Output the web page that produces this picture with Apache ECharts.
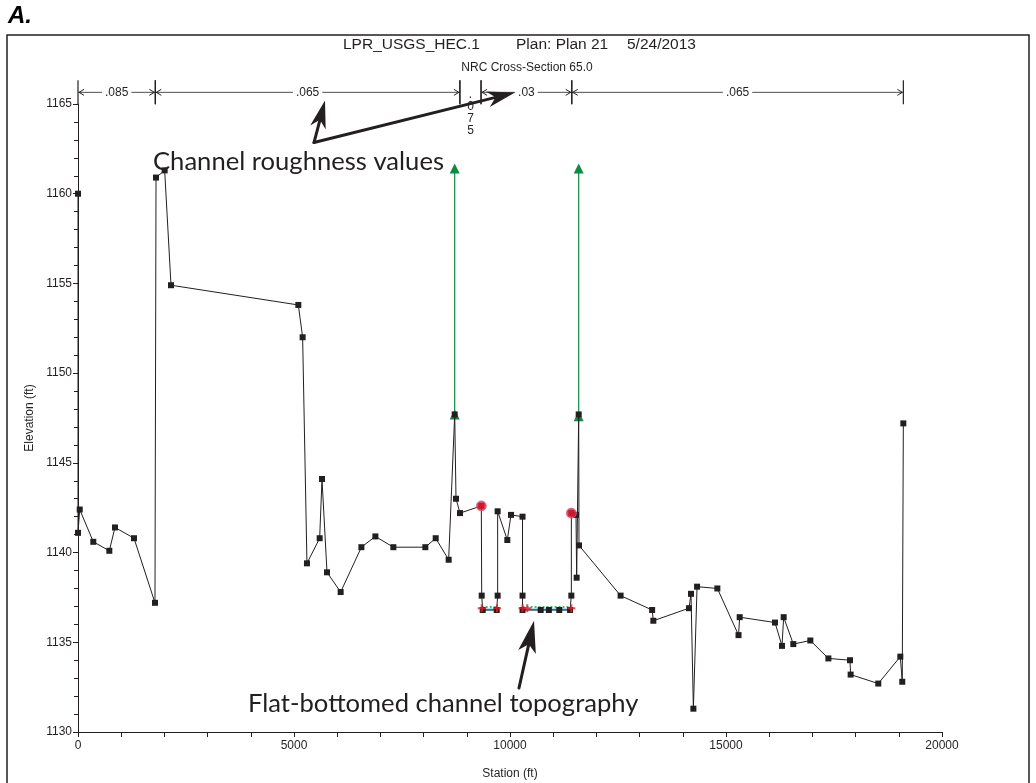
<!DOCTYPE html>
<html>
<head>
<meta charset="utf-8">
<script src="https://cdn.jsdelivr.net/npm/echarts@6/dist/echarts.min.js"></script>
<style>
  html, body { margin: 0; padding: 0; background: #fff; }
  #main { width: 1036px; height: 783px; }
</style>
</head>
<body>
<div id="main"></div>
<script>
// ground profile (station ft, elevation ft)
var groundStation = [0, 0, 40, 354, 725, 856, 1296, 1782, 1806, 2006, 2153, 5100, 5200, 5300, 5594, 5648, 5764,
  6080, 6560, 6884, 7300, 8040, 8280, 8580, 8720, 8750, 8843, 9336, 9345, 9368, 9692, 9714, 9714, 9938,
  10023, 10290, 10290, 10290, 10710, 10900, 11140, 11390, 11420, 11420, 11528, 11543, 11590, 11597,
  12560, 13290, 13318, 14144, 14190, 14245, 14330, 14800, 15290, 15317, 16134, 16296, 16335, 16558,
  16952, 17370, 17870, 17885, 18525, 19035, 19080, 19105];
var groundElev = [1160.0, 1141.1, 1142.4, 1140.6, 1140.1, 1141.4, 1140.8, 1137.2, 1160.9, 1161.3, 1154.9, 1153.8, 1152.0, 1139.4, 1140.8, 1144.1, 1138.9,
  1137.8, 1140.3, 1140.9, 1140.3, 1140.3, 1140.8, 1139.6, 1147.7, 1143.0, 1142.2, 1142.6, 1137.6, 1136.8, 1136.8, 1137.6, 1142.3, 1140.7,
  1142.1, 1142.0, 1137.6, 1136.8, 1136.8, 1136.8, 1136.8, 1136.8, 1137.6, 1142.2, 1142.1, 1138.6, 1147.7, 1140.4,
  1137.6, 1136.8, 1136.2, 1136.9, 1137.7, 1131.3, 1138.1, 1138.0, 1135.4, 1136.4, 1136.1, 1134.8, 1136.4, 1134.9,
  1135.1, 1134.1, 1134.0, 1133.2, 1132.7, 1134.2, 1132.8, 1147.2];

// ineffective flow areas (green)
var ineffStation = [8720, 11590];
var ineffLow = [1147.7, 1147.6];
var ineffHigh = [1161.4, 1161.4];

// levees (red circles)
var leveeStation = [9336, 11420];
var leveeElev = [1142.6, 1142.2];

// flat channel bottom overlays
var bottomFrom = [9345, 10290];
var bottomTo = [9700, 11420];
var wsElev = 1136.83;
var dotElev = 1136.97;
var plusStation = [9345, 9700, 10290, 10400, 11420];
var plusElev = 1136.9;

// Manning's n breaks
var roughBreaks = [0, 1790, 8840, 9330, 11430, 19105];
var roughN = ['.085', '.065', '.075', '.03', '.065'];

// annotation arrows: tail station, tail elev, tip station, tip elev
var annoTail = [[5463, 1162.85], [5463, 1162.85], [10208, 1132.45]];
var annoTip = [[5718, 1165.2], [10116, 1165.64], [10556, 1136.2]];

var xTicks = [0, 20000, 5000];
var yTicks = [1130, 1165, 5];

var ink = '#231f20';
var BRACKET_ELEV = 1165.65;

function zip(xs, ys) { return xs.map(function (x, i) { return [x, ys[i]]; }); }

var groundData = zip(groundStation, groundElev);
var ineffData = [];
ineffStation.forEach(function (s, i) {
  ineffData.push([s, ineffLow[i]], [s, ineffHigh[i]], '-');
});
var wsData = [], dotData = [];
bottomFrom.forEach(function (s, i) {
  wsData.push([s, wsElev], [bottomTo[i], wsElev], '-');
  dotData.push([s, dotElev], [bottomTo[i], dotElev], '-');
});
var plusData = plusStation.map(function (s) { return [s, plusElev]; });
var bracketData = roughN.map(function (n, i) { return [roughBreaks[i], roughBreaks[i + 1]]; });
var arrowData = annoTail.map(function (t, i) { return [t[0], t[1], annoTip[i][0], annoTip[i][1]]; });

function renderBracket(params, api) {
  var a = api.coord([api.value(0), BRACKET_ELEV]);
  var b = api.coord([api.value(1), BRACKET_ELEV]);
  var y = a[1];
  var label = roughN[params.dataIndex];
  var st = { stroke: ink, lineWidth: 1.2 };
  var kids = [
    { type: 'line', shape: { x1: a[0], y1: y - 12, x2: a[0], y2: y + 12 }, style: st },
    { type: 'line', shape: { x1: b[0], y1: y - 12, x2: b[0], y2: y + 12 }, style: st }
  ];
  if (b[0] - a[0] > 40) {
    kids.push(
      { type: 'line', shape: { x1: a[0], y1: y, x2: b[0], y2: y }, style: { stroke: ink, lineWidth: 0.8 } },
      { type: 'polyline', shape: { points: [[a[0] + 6, y - 3], [a[0] + 1, y], [a[0] + 6, y + 3]] }, style: { stroke: ink, lineWidth: 1, fill: null } },
      { type: 'polyline', shape: { points: [[b[0] - 6, y - 3], [b[0] - 1, y], [b[0] - 6, y + 3]] }, style: { stroke: ink, lineWidth: 1, fill: null } },
      { type: 'text', x: (a[0] + b[0]) / 2, y: y,
        style: { text: label, fill: ink, font: '12px "Liberation Sans", Arial, sans-serif',
          align: 'center', verticalAlign: 'middle', backgroundColor: '#fff', padding: [0, 3] } }
    );
  } else {
    kids.push({ type: 'text', x: (a[0] + b[0]) / 2, y: y - 4,
      style: { text: label.split('').join('\n'), fill: ink, font: '12px "Liberation Sans", Arial, sans-serif',
        align: 'center', verticalAlign: 'top', lineHeight: 12 } });
  }
  return { type: 'group', children: kids };
}

function renderArrow(params, api) {
  var t = api.coord([api.value(0), api.value(1)]);
  var p = api.coord([api.value(2), api.value(3)]);
  var dx = p[0] - t[0], dy = p[1] - t[1];
  var len = Math.sqrt(dx * dx + dy * dy);
  var ux = dx / len, uy = dy / len, nx = -uy, ny = ux;
  var L = params.dataIndex === 2 ? 32 : 28, w = params.dataIndex === 2 ? 9 : 8, notch = 8;
  var base = [p[0] - ux * L, p[1] - uy * L];
  var inner = [p[0] - ux * (L - notch), p[1] - uy * (L - notch)];
  return { type: 'group', children: [
    { type: 'line', shape: { x1: t[0], y1: t[1], x2: inner[0], y2: inner[1] }, style: { stroke: ink, lineWidth: 3, lineCap: 'round' } },
    { type: 'polygon', shape: { points: [p, [base[0] + nx * w, base[1] + ny * w], inner, [base[0] - nx * w, base[1] - ny * w]] }, style: { fill: ink } }
  ] };
}

function plain(v) { return String(v); }

var chart = echarts.init(document.getElementById('main'));
var option = {
  animation: false,
  backgroundColor: '#fff',
  textStyle: { fontFamily: '"Liberation Sans", Arial, sans-serif', color: ink },
  grid: { left: 78, width: 864, top: 104, height: 628, containLabel: false, outerBoundsMode: 'none' },
  xAxis: {
    type: 'value', min: xTicks[0], max: xTicks[1], interval: xTicks[2],
    name: 'Station (ft)', nameLocation: 'middle', nameGap: 36,
    nameTextStyle: { fontSize: 12, color: ink },
    axisLine: { onZero: false, lineStyle: { color: ink, width: 1 } },
    axisTick: { length: 5, lineStyle: { color: ink } },
    minorTick: { show: true, splitNumber: 5, length: 5, lineStyle: { color: ink } },
    axisLabel: { fontSize: 12, color: ink, margin: 8, formatter: plain },
    splitLine: { show: false }
  },
  yAxis: {
    type: 'value', min: yTicks[0], max: yTicks[1], interval: yTicks[2],
    name: 'Elevation (ft)', nameLocation: 'middle', nameGap: 39,
    nameTextStyle: { fontSize: 12, color: ink },
    axisLine: { show: true, lineStyle: { color: ink, width: 1 } },
    axisTick: { show: true, length: 5, lineStyle: { color: ink } },
    minorTick: { show: true, splitNumber: 5, length: 4, lineStyle: { color: ink } },
    axisLabel: { fontSize: 12, color: ink, margin: 6, formatter: plain },
    splitLine: { show: false }
  },
  series: [
    { type: 'line', name: 'ws', data: wsData, symbol: 'none', z: 2,
      lineStyle: { color: '#4fc4e8', width: 2 } },
    { type: 'line', name: 'dots', data: dotData, symbol: 'none', z: 2,
      lineStyle: { color: '#1c9a4e', width: 1.5, type: [2, 2] } },
    { type: 'line', name: 'ineff', data: ineffData, symbol: 'triangle', symbolSize: 10, z: 3,
      itemStyle: { color: '#0e8a43' }, lineStyle: { color: '#0e8a43', width: 1.2 } },
    { type: 'line', name: 'ground', data: groundData, symbol: 'rect', symbolSize: 6, z: 4,
      itemStyle: { color: ink }, lineStyle: { color: ink, width: 1 } },
    { type: 'scatter', name: 'levee', data: zip(leveeStation, leveeElev), symbol: 'circle', symbolSize: 10, z: 5,
      itemStyle: { color: '#ec1c2e', borderColor: '#d06aa0', borderWidth: 1 } },
    { type: 'scatter', name: 'plus', data: plusData, z: 6,
      symbol: 'path://M3,0h2v3h3v2h-3v3h-2v-3h-3v-2h3z', symbolSize: 8, itemStyle: { color: '#ee1c25' } },
    { type: 'custom', name: 'roughness', data: bracketData, renderItem: renderBracket, clip: false, z: 7,
      encode: { x: [0, 1] }, silent: true },
    { type: 'custom', name: 'arrows', data: arrowData, renderItem: renderArrow, clip: false, z: 8,
      encode: { x: [0, 2], y: [1, 3] }, silent: true }
  ],
  graphic: [
    { type: 'rect', shape: { x: 7, y: 35, width: 1022, height: 770 }, style: { fill: null, stroke: ink, lineWidth: 1.5 }, silent: true },
    { type: 'text', x: 8, y: 16, style: { text: 'A.', font: 'italic bold 24px "Liberation Sans", Arial, sans-serif', fill: '#000', verticalAlign: 'middle' } },
    { type: 'text', x: 343, y: 45, style: { text: 'LPR_USGS_HEC.1', font: '15.5px "Liberation Sans", Arial, sans-serif', fill: ink, verticalAlign: 'middle' } },
    { type: 'text', x: 516, y: 45, style: { text: 'Plan: Plan 21', font: '15.5px "Liberation Sans", Arial, sans-serif', fill: ink, verticalAlign: 'middle' } },
    { type: 'text', x: 627, y: 45, style: { text: '5/24/2013', font: '15.5px "Liberation Sans", Arial, sans-serif', fill: ink, verticalAlign: 'middle' } },
    { type: 'text', x: 527, y: 68, style: { text: 'NRC Cross-Section 65.0', font: '12px "Liberation Sans", Arial, sans-serif', fill: ink, align: 'center', verticalAlign: 'middle' } },
    { type: 'text', x: 153, y: 162, style: { text: 'Channel roughness values', font: '25.6px Lato, "Open Sans", sans-serif', fill: ink, verticalAlign: 'middle' } },
    { type: 'text', x: 248, y: 704, style: { text: 'Flat-bottomed channel topography', font: '25.6px Lato, "Open Sans", sans-serif', fill: ink, verticalAlign: 'middle' } }
  ]
};
chart.setOption(option);
</script>
</body>
</html>
